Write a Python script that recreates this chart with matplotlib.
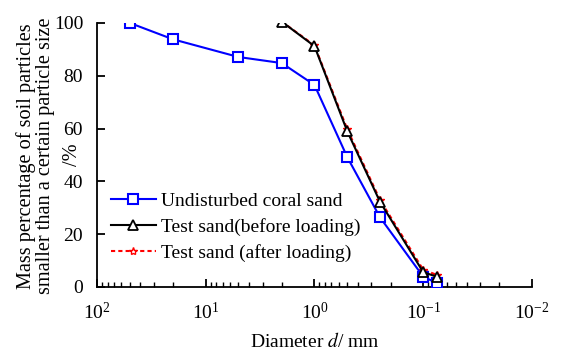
import matplotlib
matplotlib.use("Agg")
import matplotlib.pyplot as plt

plt.rcParams['font.family'] = ['Liberation Serif', 'DejaVu Serif']
plt.rcParams['mathtext.fontset'] = 'stix'

# Datos
d_und = [50, 20, 5, 2, 1, 0.5, 0.25, 0.1, 0.075]
p_und = [100, 93.8, 87.1, 84.8, 76.5, 49.2, 26.4, 3.9, 1.5]

d_test = [2, 1, 0.5, 0.25, 0.1, 0.075]
p_antes = [100.5, 91.2, 59.0, 32.3, 5.6, 3.9]
p_despues = [100.5, 91.5, 59.8, 33.0, 6.5, 4.6]

fig = plt.figure(figsize=(5.62, 3.53), dpi=100)
ax = fig.add_axes([0.1726, 0.187, 0.774, 0.748])

ax.plot(d_test, p_despues, color='red', ls=(0, (2, 1.5)), lw=1.5,
        marker='*', ms=6, mfc='white', mec='red', mew=1.0,
        label='Test sand (after loading)', zorder=2)
ax.plot(d_und, p_und, color='blue', lw=1.5, marker='s', ms=6.5, mfc='white',
        mec='blue', mew=1.5, label='Undisturbed coral sand', zorder=3)
ax.plot(d_test, p_antes, color='black', lw=1.5, marker='^', ms=6.5, mfc='white',
        mec='black', mew=1.3, label='Test sand(before loading)', zorder=4)

ax.set_xscale('log')
ax.set_xlim(100, 0.01)
ax.set_ylim(0, 100)
ax.set_yticks([0, 20, 40, 60, 80, 100])

for s in ['top', 'right']:
    ax.spines[s].set_visible(False)
for s in ['left', 'bottom']:
    ax.spines[s].set_linewidth(1.3)

ax.tick_params(which='major', direction='in', length=6, width=1.3, labelsize=14)
ax.tick_params(which='minor', direction='in', length=3.5, width=1.0)
ax.tick_params(axis='x', which='major', pad=11)
ax.tick_params(axis='y', pad=10)

ax.set_xlabel('Diameter $d$/ mm', fontsize=14, labelpad=6)

# etiqueta del eje y: dos lineas y la unidad aparte
fig.text(0.063, 0.558,
         'Mass percentage of soil particles\nsmaller than a certain particle size',
         rotation=90, ha='center', va='center', multialignment='center',
         fontsize=14.6, linespacing=0.95)
fig.text(0.129, 0.5623, '/%', rotation=90, ha='center', va='center', fontsize=14.6)

h, l = ax.get_legend_handles_labels()
orden = [1, 2, 0]
ax.legend([h[i] for i in orden], [l[i] for i in orden], frameon=False,
          fontsize=14, loc='center left', bbox_to_anchor=(0.0138, 0.227),
          borderaxespad=0, handlelength=2.3, labelspacing=0.4, handletextpad=0.3)

fig.savefig('out.png', dpi=100)
